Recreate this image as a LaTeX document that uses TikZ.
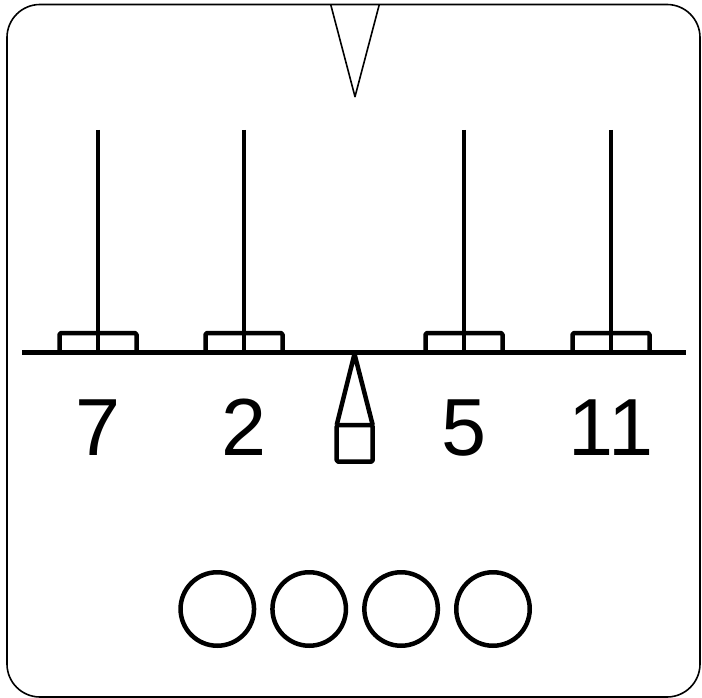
\documentclass[tikz,border=0pt]{standalone}
\usepackage{fontspec}
\setmainfont{Liberation Sans}
\begin{document}
\begin{tikzpicture}[x=1pt,y=-1pt,
  thin line/.style={line width=1.6pt,line join=round},
  thick line/.style={line width=4.5pt,line join=round},
  numlabel/.style={anchor=base,inner sep=0pt,font=\fontsize{81}{81}\selectfont},
  weight/.style={thick line,circle,draw,minimum size=73.5pt,inner sep=0pt}]
\useasboundingbox (0,0) rectangle (702,698);
% frame
\draw[thin line,rounded corners=33pt] (7,4.5) rectangle (700,697);
% pointer
\coordinate (pl) at (330.7,4.5);
\coordinate (pr) at (379.3,4.5);
\coordinate (pa) at (355,96.7);
\draw[thin line] (pl) -- (pa) -- (pr);
% beam
\coordinate (bl) at (22,352.5);
\coordinate (br) at (686,352.5);
\draw[thick line] (bl) -- (br);
% pans, rods and labels
\foreach \x/\t [count=\i] in {98/7,244/2,464/5,611/11}{
  \draw[thick line,rounded corners=1.5pt] (\x-38.5,352.5) |- (\x+38.5,333) -- (\x+38.5,352.5);
  \coordinate (top\i) at (\x,130);
  \coordinate (bot\i) at (\x,352.5);
  \draw[thick line] (top\i) -- (bot\i);
  \node[numlabel] (lab\i) at (\x,455) {\t};
}
% fulcrum
\coordinate (fa) at (354.5,354);
\coordinate (fl) at (336.7,425);
\coordinate (fr) at (372.7,425);
\draw[thick line] (fl) -- (fa) -- (fr);
\draw[thick line,rounded corners=1.5pt] (336.7,425) rectangle (372.7,461.7);
% weights
\foreach \x [count=\i] in {217.3,309.2,401.1,493}{
  \node[weight] (w\i) at (\x,609) {};
}
\end{tikzpicture}
\end{document}
